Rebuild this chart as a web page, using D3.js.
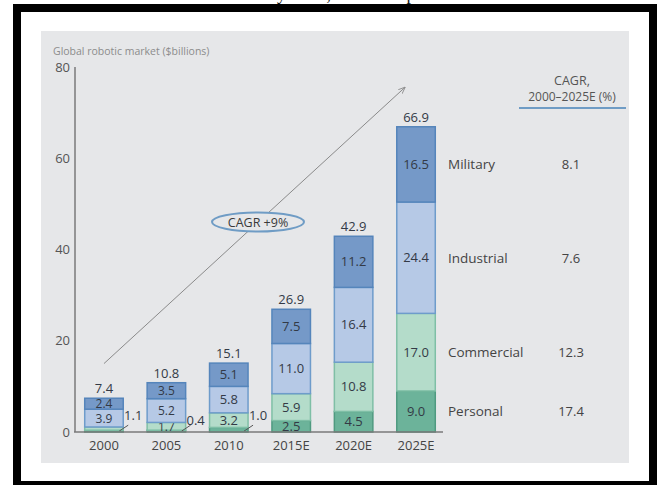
<!DOCTYPE html>
<html>
<head>
<meta charset="utf-8">
<script src="https://cdn.jsdelivr.net/npm/d3@7/dist/d3.min.js"></script>
<style>
  body { margin: 0; background: #fff; }
  svg { display: block; }
  text { font-family: "Open Sans", "Noto Sans", sans-serif; }
</style>
</head>
<body>
<div id="chart"></div>
<script>
var years = ["2000", "2005", "2010", "2015E", "2020E", "2025E"];
var segments = ["Personal", "Commercial", "Industrial", "Military"];
var personal   = [0.4, 0.4, 1.0, 2.5, 4.5, 9.0];
var commercial = [0.7, 1.7, 3.2, 5.9, 10.8, 17.0];
var industrial = [3.9, 5.2, 5.8, 11.0, 16.4, 24.4];
var military   = [2.4, 3.5, 5.1, 7.5, 11.2, 16.5];
var totals     = [7.4, 10.8, 15.1, 26.9, 42.9, 66.9];
var cagr       = ["17.4", "12.3", "7.6", "8.1"];
// small values written beside the bar instead of inside it
var callouts   = [{ year: "2000", text: "1.1" }, { year: "2005", text: "0.4" }, { year: "2010", text: "1.0" }];
var yTicks     = [0, 20, 40, 60, 80];

var width = 657;
var height = 488;

var colors = {
  Personal: "#6cb39a",
  Commercial: "#b4dcca",
  Industrial: "#b6c9e6",
  Military: "#7599c8"
};
var strokes = {
  Personal: "#4f9a80",
  Commercial: "#7fbfa6",
  Industrial: "#6e9ccb",
  Military: "#5585bb"
};

var rows = years.map(function(y, i) {
  return {
    year: y,
    Personal: personal[i],
    Commercial: commercial[i],
    Industrial: industrial[i],
    Military: military[i],
    total: totals[i]
  };
});

var svg = d3.select("#chart").append("svg")
  .attr("width", width)
  .attr("height", height);

// caption line cut off by the frame
svg.append("text")
  .attr("x", 152)
  .attr("y", 0)
  .style("font-family", "'Liberation Serif', serif")
  .style("font-size", "18px")
  .attr("fill", "#111")
  .text("Robotic market by 2025, and the top");

// frame
svg.append("rect").attr("x", 13).attr("y", 4).attr("width", 644).attr("height", 481).attr("fill", "#000");
svg.append("rect").attr("x", 21).attr("y", 12).attr("width", 628).attr("height", 469).attr("fill", "#fff");
svg.append("rect").attr("x", 41).attr("y", 31).attr("width", 588).attr("height", 432).attr("fill", "#e6e7e9");

var x = d3.scaleBand()
  .domain(years)
  .range([66, 454])
  .paddingInner(0.383)
  .paddingOuter(0.3);

var y = d3.scaleLinear()
  .domain([0, 80])
  .range([432, 67]);

var stacked = d3.stack().keys(segments)(rows);

// growth arrow
svg.append("defs").append("marker")
  .attr("id", "head")
  .attr("viewBox", "0 0 10 10")
  .attr("refX", 9)
  .attr("refY", 5)
  .attr("markerWidth", 7)
  .attr("markerHeight", 7)
  .attr("orient", "auto")
  .append("path")
    .attr("d", "M0,1 L10,5 L0,9")
    .attr("fill", "none")
    .attr("stroke", "#8a8a8a")
    .attr("stroke-width", 1.2);

svg.append("line")
  .attr("x1", x("2000") + x.bandwidth() / 2)
  .attr("y1", y(15))
  .attr("x2", x("2025E") + 8)
  .attr("y2", y(75.5))
  .attr("stroke", "#8a8a8a")
  .attr("stroke-width", 1)
  .attr("marker-end", "url(#head)");

svg.append("ellipse")
  .attr("cx", 258)
  .attr("cy", 222)
  .attr("rx", 46)
  .attr("ry", 9.5)
  .attr("fill", "#e6e7e9")
  .attr("stroke", "#6f9cc5")
  .attr("stroke-width", 2);

svg.append("text")
  .attr("x", 258)
  .attr("y", 226.5)
  .attr("text-anchor", "middle")
  .style("font-size", "12.5px")
  .attr("fill", "#3a3a3a")
  .text("CAGR +9%");

// bars
var layers = svg.append("g").selectAll("g.layer")
  .data(stacked)
  .enter().append("g")
    .attr("class", "layer");

layers.selectAll("rect")
  .data(function(d) { return d.map(function(p) { return { key: d.key, p: p }; }); })
  .enter().append("rect")
    .attr("x", function(d) { return x(d.p.data.year); })
    .attr("y", function(d) { return y(d.p[1]); })
    .attr("width", x.bandwidth())
    .attr("height", function(d) { return y(d.p[0]) - y(d.p[1]); })
    .attr("fill", function(d) { return colors[d.key]; })
    .attr("stroke", function(d) { return strokes[d.key]; })
    .attr("stroke-width", 1.5);

// values inside segments
layers.selectAll("text")
  .data(function(d) {
    return d.map(function(p) { return { key: d.key, p: p, v: p.data[d.key] }; })
      .filter(function(d) {
        var y0 = d.p.data.year;
        if (d.key === "Personal" && (y0 === "2000" || y0 === "2005" || y0 === "2010")) return false;
        if (d.key === "Commercial" && y0 === "2000") return false;
        return true;
      });
  })
  .enter().append("text")
    .attr("x", function(d) { return x(d.p.data.year) + x.bandwidth() / 2; })
    .attr("y", function(d) { return (y(d.p[0]) + y(d.p[1])) / 2 + 4.5; })
    .attr("text-anchor", "middle")
    .style("font-size", function(d) {
      return (d.p.data.year === "2000" || d.p.data.year === "2005") ? "12px" : "13px";
    })
    .attr("fill", "#333a46")
    .text(function(d) { return d.v.toFixed(1); });

// callouts
var co = svg.append("g").selectAll("g")
  .data(callouts)
  .enter().append("g");

co.append("line")
  .attr("x1", function(d) { return x(d.year) + x.bandwidth() + 5; })
  .attr("y1", y(1.5))
  .attr("x2", function(d) { return x(d.year) + x.bandwidth() - 4; })
  .attr("y2", y(0.2))
  .attr("stroke", "#555")
  .attr("stroke-width", 1);

co.append("text")
  .attr("x", function(d) { return x(d.year) + x.bandwidth() + 10; })
  .attr("y", function(d, i) { return i === 1 ? y(1.6) : y(2.6); })
  .attr("text-anchor", "middle")
  .style("font-size", "13px")
  .attr("fill", "#333a46")
  .text(function(d) { return d.text; });

// totals
svg.append("g").selectAll("text")
  .data(rows)
  .enter().append("text")
    .attr("x", function(d) { return x(d.year) + x.bandwidth() / 2; })
    .attr("y", function(d) { return y(d.total) - 5; })
    .attr("text-anchor", "middle")
    .style("font-size", "13px")
    .attr("fill", "#333a46")
    .text(function(d) { return d.total.toFixed(1); });

// axes
var xAxis = svg.append("g")
  .attr("transform", "translate(0," + y(0) + ")")
  .call(d3.axisBottom(x).tickSize(0).tickPadding(9));
xAxis.select(".domain").remove();
xAxis.selectAll("text")
  .style("font-size", "13px")
  .style("font-family", "'Open Sans', sans-serif")
  .attr("fill", "#444");

var yAxis = svg.append("g")
  .attr("transform", "translate(75,0)")
  .call(d3.axisLeft(y).tickValues(yTicks).tickSize(0).tickPadding(5));
yAxis.select(".domain").remove();
yAxis.selectAll("text")
  .style("font-size", "13px")
  .style("font-family", "'Open Sans', sans-serif")
  .attr("fill", "#555");

svg.append("line")
  .attr("x1", 75).attr("x2", 75)
  .attr("y1", y(80)).attr("y2", y(0))
  .attr("stroke", "#7a7a7a")
  .attr("stroke-width", 1.5);

svg.append("line")
  .attr("x1", 74).attr("x2", 443)
  .attr("y1", y(0)).attr("y2", y(0))
  .attr("stroke", "#7a7a7a")
  .attr("stroke-width", 1.5);

svg.append("text")
  .attr("x", 53)
  .attr("y", 55)
  .style("font-size", "10.5px")
  .attr("fill", "#8c8c8c")
  .text("Global robotic market ($billions)");

// legend on the right, aligned to the 2025E segments
var last = stacked.map(function(s) { return { key: s.key, p: s[s.length - 1] }; });

svg.append("g").selectAll("text")
  .data(last)
  .enter().append("text")
    .attr("x", 448)
    .attr("y", function(d) { return (y(d.p[0]) + y(d.p[1])) / 2 + 5; })
    .style("font-size", "13.5px")
    .attr("fill", "#444")
    .text(function(d) { return d.key; });

svg.append("g").selectAll("text")
  .data(last)
  .enter().append("text")
    .attr("x", 571)
    .attr("y", function(d) { return (y(d.p[0]) + y(d.p[1])) / 2 + 5; })
    .attr("text-anchor", "middle")
    .style("font-size", "13px")
    .attr("fill", "#444")
    .text(function(d, i) { return cagr[i]; });

svg.append("text")
  .attr("x", 572)
  .attr("y", 85)
  .attr("text-anchor", "middle")
  .style("font-size", "12.5px")
  .attr("fill", "#555")
  .text("CAGR,");

svg.append("text")
  .attr("x", 572)
  .attr("y", 101)
  .attr("text-anchor", "middle")
  .style("font-size", "12px")
  .attr("fill", "#555")
  .text("2000–2025E (%)");

svg.append("line")
  .attr("x1", 519).attr("x2", 626)
  .attr("y1", 108).attr("y2", 108)
  .attr("stroke", "#6f9cc5")
  .attr("stroke-width", 2);
</script>
</body>
</html>
